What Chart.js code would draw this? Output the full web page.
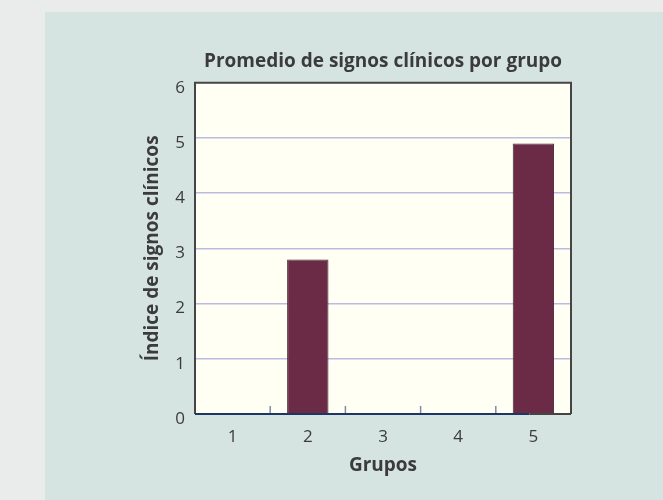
<!DOCTYPE html>
<html>
<head>
<meta charset="utf-8">
<script src="https://cdn.jsdelivr.net/npm/chart.js@4/dist/chart.umd.min.js"></script>
<style>
  html, body { margin: 0; padding: 0; background: #eaeceb; }
  canvas { display: block; }
</style>
</head>
<body>
<canvas id="myChart" width="663" height="500"></canvas>
<script>
const groups = ['1', '2', '3', '4', '5'];
const values = [0, 2.8, 0, 0, 4.9];
const yTicks = [0, 1, 2, 3, 4, 5, 6];

const textColor = '#3b3b3b';
const fontFamily = "'Open Sans', 'Noto Sans', sans-serif";

// page background, panel, plot fill, frame and inner ticks
const framePlugin = {
    id: 'frame',
    beforeDraw: (chart) => {
        const ctx = chart.ctx;
        const a = chart.chartArea;
        ctx.save();
        ctx.fillStyle = '#eaeceb';
        ctx.fillRect(0, 0, chart.width, chart.height);
        ctx.fillStyle = '#d6e4e1';
        ctx.fillRect(45, 12, chart.width - 45, chart.height - 12);
        ctx.fillStyle = '#fffff4';
        ctx.fillRect(a.left, a.top, a.right - a.left, a.bottom - a.top);
        ctx.restore();
    },
    afterDatasetsDraw: (chart) => {
        const ctx = chart.ctx;
        const a = chart.chartArea;
        const x = chart.scales.x;
        ctx.save();
        // boundary ticks between groups, pointing up into the plot
        ctx.strokeStyle = '#7f8aa8';
        ctx.lineWidth = 1.5;
        for (let i = 0; i < groups.length - 1; i++) {
            const px = (x.getPixelForValue(i) + x.getPixelForValue(i + 1)) / 2;
            ctx.beginPath();
            ctx.moveTo(px, a.bottom);
            ctx.lineTo(px, a.bottom - 8);
            ctx.stroke();
        }
        // frame
        ctx.strokeStyle = '#454545';
        ctx.lineWidth = 2;
        ctx.beginPath();
        ctx.moveTo(a.left, a.bottom);
        ctx.lineTo(a.left, a.top);
        ctx.lineTo(a.right, a.top);
        ctx.lineTo(a.right, a.bottom);
        ctx.stroke();
        // navy baseline stops a little short of the last group centre, then grey
        const navyEnd = x.getPixelForValue(groups.length - 1) - 4;
        ctx.beginPath();
        ctx.moveTo(navyEnd, a.bottom);
        ctx.lineTo(a.right, a.bottom);
        ctx.stroke();
        ctx.strokeStyle = '#1f3566';
        ctx.beginPath();
        ctx.moveTo(a.left, a.bottom);
        ctx.lineTo(navyEnd, a.bottom);
        ctx.stroke();
        ctx.restore();
    }
};

const ctx = document.getElementById('myChart');
new Chart(ctx, {
    type: 'bar',
    data: {
        labels: groups,
        datasets: [{
            label: 'Índice',
            data: values,
            backgroundColor: '#6b2b47',
            borderColor: '#3d2a33',
            borderWidth: 1,
            borderSkipped: 'bottom',
            barPercentage: 0.55,
            categoryPercentage: 1
        }]
    },
    options: {
        responsive: false,
        animation: false,
        layout: { padding: { left: 0, right: 92, top: 0, bottom: 0 } },
        plugins: {
            legend: { display: false },
            tooltip: { enabled: false },
            title: {
                display: true,
                text: 'Promedio de signos clínicos por grupo',
                fullSize: false,
                color: textColor,
                font: { family: fontFamily, size: 19, weight: 'bold' },
                padding: { top: 50, bottom: 10 }
            }
        },
        scales: {
            x: {
                grid: { display: false, drawTicks: false },
                border: { display: false },
                ticks: {
                    color: textColor,
                    font: { family: fontFamily, size: 17 },
                    padding: 13
                },
                title: {
                    display: true,
                    text: 'Grupos',
                    color: textColor,
                    font: { family: fontFamily, size: 19, weight: 'bold' },
                    padding: { top: 0, bottom: 23 }
                },
                afterFit: (scale) => { scale.height = 86; }
            },
            y: {
                min: yTicks[0],
                max: yTicks[yTicks.length - 1],
                grid: {
                    drawTicks: false,
                    color: (c) => (c.tick.value === 0 || c.tick.value === 6) ? 'rgba(0,0,0,0)' : '#bcbce2',
                    lineWidth: 1.5
                },
                border: { display: false },
                ticks: {
                    stepSize: 1,
                    color: textColor,
                    font: { family: fontFamily, size: 17 },
                    padding: 10,
                    labelOffset: 5
                },
                title: {
                    display: true,
                    text: 'Índice de signos clínicos',
                    color: textColor,
                    font: { family: fontFamily, size: 19, weight: 'bold' },
                    padding: { top: 141, bottom: 0 }
                },
                afterFit: (scale) => { scale.width = 195; }
            }
        }
    },
    plugins: [framePlugin]
});
</script>
</body>
</html>
